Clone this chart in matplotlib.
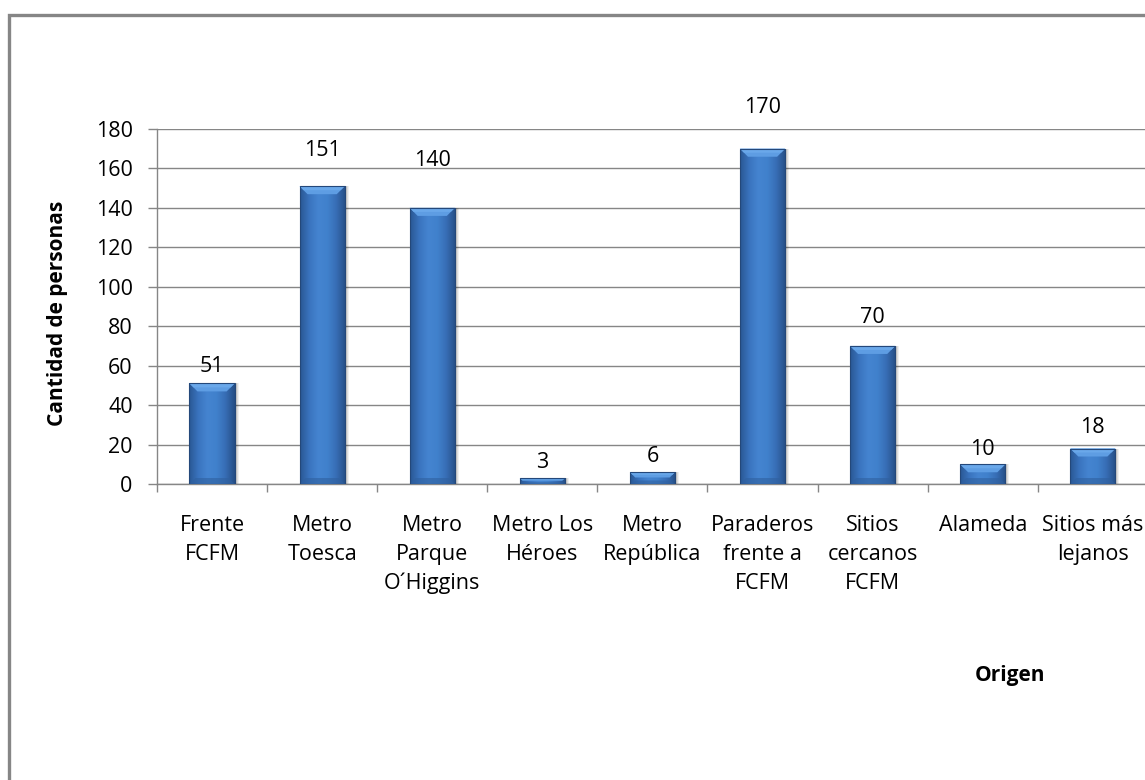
import numpy as np
import matplotlib
matplotlib.use("Agg")
import matplotlib.pyplot as plt
from matplotlib.lines import Line2D
from matplotlib.patches import Polygon, Rectangle
from matplotlib.colors import LinearSegmentedColormap

categories = [
    "Frente\nFCFM",
    "Metro\nToesca",
    "Metro\nParque\nO´Higgins",
    "Metro Los\nHéroes",
    "Metro\nRepública",
    "Paraderos\nfrente a\nFCFM",
    "Sitios\ncercanos\nFCFM",
    "Alameda",
    "Sitios más\nlejanos",
]
values = [51, 151, 140, 3, 6, 170, 70, 10, 18]
y_ticks = [0, 20, 40, 60, 80, 100, 120, 140, 160, 180]

# vertical gap (px) between each bar top and its value label
label_gap_px = [17, 36, 47, 16, 16, 41, 28, 15, 21]

plt.rcParams["font.family"] = ["Open Sans", "DejaVu Sans"]

W, H = 1145, 780
fig = plt.figure(figsize=(W / 100, H / 100), dpi=100)
fig.patch.set_facecolor("white")

# chart area frame (only the left and top edges fall inside the canvas)
grey = "#868686"
fig.add_artist(Line2D([8.5 / W, 8.5 / W, 1.0], [0.0, 1 - 14.5 / H, 1 - 14.5 / H],
                      transform=fig.transFigure, color=grey, lw=2.4,
                      solid_joinstyle="miter"))

ax_left, ax_right = 157 / W, (157 + 9 * 110.1) / W
ax_bottom, ax_top = 1 - 484 / H, 1 - 129 / H
ax = fig.add_axes([ax_left, ax_bottom, ax_right - ax_left, ax_top - ax_bottom])
ax.set_xlim(-0.5, len(categories) - 0.5)
ax.set_ylim(0, 180)

txt_size = 15.5

ax.set_yticks(y_ticks)
ax.set_yticklabels([str(t) for t in y_ticks], fontsize=txt_size, color="black")
ax.yaxis.grid(True, color=grey, lw=1.0)
ax.set_axisbelow(True)
ax.tick_params(axis="y", length=6.5, width=1, color=grey, pad=11)

ax.set_xticks(np.arange(len(categories)))
ax.set_xticklabels(categories, fontsize=txt_size, linespacing=1.5, va="top")
ax.tick_params(axis="x", which="major", length=0, pad=22)
ax.set_xticks(np.arange(-0.5, len(categories)), minor=True)
ax.tick_params(axis="x", which="minor", length=6, width=1, color=grey)

for s in ("top", "right"):
    ax.spines[s].set_visible(False)
for s in ("left", "bottom"):
    ax.spines[s].set_color(grey)
    ax.spines[s].set_linewidth(1.0)

# pixel -> data conversions
px_x = (len(categories)) / (ax_right - ax_left) / W
px_y = 180 / (ax_top - ax_bottom) / H

bar_w = 0.41
base_color = "#3b75c0"
side_cmap = LinearSegmentedColormap.from_list(
    "bar_side", ["#2a5894", "#3a74bf", "#4584d0", "#4081cc", "#376db5", "#264f86"])
grad = np.linspace(0, 1, 64).reshape(1, -1)

bars = ax.bar(np.arange(len(values)), values, width=bar_w, color=base_color,
              edgecolor="none", zorder=3)

for i, (b, v) in enumerate(zip(bars, values)):
    x0 = b.get_x()
    x1 = x0 + b.get_width()
    # soft shadow on the right
    for k, a in ((4, 0.06), (3, 0.08), (2, 0.10)):
        ax.add_patch(Rectangle((x0 + k * px_x, 0), b.get_width(), v,
                               facecolor="black", alpha=a,
                               edgecolor="none", zorder=2.5, clip_on=False))
    # horizontal shading across the bar
    im = ax.imshow(grad, cmap=side_cmap, aspect="auto",
                   extent=(x0, x1, 0, v), zorder=3.1, interpolation="bicubic")
    im.set_clip_path(b)
    # bevelled top face
    bh = min(8 * px_y, v * 0.45)
    bx = min(8 * px_x, bh / px_y * px_x)
    ax.add_patch(Polygon([(x0, v), (x1, v), (x1 - bx, v - bh), (x0 + bx, v - bh)],
                         closed=True, facecolor="#5e9de3", edgecolor="none", zorder=3.2))
    ax.add_patch(Polygon([(x0, v), (x1, v), (x1 - bx * 0.5, v - bh * 0.5),
                          (x0 + bx * 0.5, v - bh * 0.5)],
                         closed=True, facecolor="#6aa8ea", edgecolor="none", zorder=3.3))
    # darker bottom lip
    lh = min(6 * px_y, v * 0.3)
    ax.add_patch(Polygon([(x0, 0), (x1, 0), (x1 - 6 * px_x, lh), (x0 + 6 * px_x, lh)],
                         closed=True, facecolor="#2f609f", edgecolor="none",
                         alpha=0.6, zorder=3.2))
    # thin dark outline
    ax.add_patch(Rectangle((x0, 0), b.get_width(), v, facecolor="none",
                           edgecolor="#24487a", lw=0.8, zorder=3.4))
    ax.text(i, v + label_gap_px[i] * px_y, str(v), ha="center", va="center",
            fontsize=txt_size, color="black", zorder=4)

ax.set_ylabel("Cantidad de personas", fontsize=15, fontweight="bold")
ax.yaxis.set_label_coords((68 - 157) / (ax_right - ax_left) / W, (484 - 313) / 355)

fig.text(1010 / W, 1 - 675 / H, "Origen", fontsize=15, fontweight="bold",
         ha="center", va="center")

fig.savefig("out.png", dpi=100, facecolor="white")
